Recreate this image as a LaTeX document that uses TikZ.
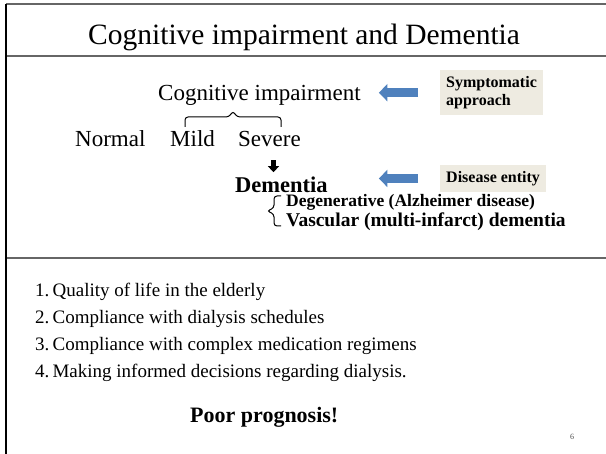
\documentclass[tikz,border=0pt]{standalone}
\usepackage{fontspec}
\setmainfont{Liberation Serif}
\usetikzlibrary{calc,positioning,arrows.meta}
\definecolor{boxgray}{HTML}{EEEBE1}
\definecolor{arrowblue}{HTML}{4F81BD}

\begin{document}
\begin{tikzpicture}[
    x=1pt, y=-1pt,% pixel-like grid, y grows downwards
    every node/.style={inner sep=0pt, anchor=base west},
    rule/.style={draw=black!60, line width=2pt},
    title/.style={font=\fontsize{29.5}{32}\selectfont},
    body/.style={font=\fontsize{23}{26}\selectfont},
    boldbody/.style={font=\fontsize{22.5}{26}\selectfont\bfseries},
    item/.style={font=\fontsize{19}{22}\selectfont},
    tagbox/.style={fill=boxgray, font=\fontsize{16}{18.5}\selectfont\bfseries,
        align=left, inner xsep=6pt, inner ysep=6pt, anchor=north west},
    bluearrow/.style={draw=arrowblue, line width=9pt,
        -{Triangle[length=8.5pt,width=17pt]}},
    blackarrow/.style={draw=black, line width=5pt,
        -{Triangle[length=6pt,width=11pt]}},
    curl/.style={draw=black, line width=1pt, rounded corners=3pt}
  ]
  \useasboundingbox (0,0) rectangle (606,454);

  % frame
  \draw[rule] (6,4) -- (606,4);
  \draw[rule] (6,56) -- (606,56);
  \draw[rule] (6,258) -- (606,258);
  \draw[black, line width=1.5pt] (6,4) -- (6,454);

  \node[title] (title) at (88,45) {Cognitive impairment and Dementia};

  \node[body] (cogimp) at (158,101) {Cognitive impairment};
  \node[body] (normal) at (75,147) {Normal};
  \node[body] (mild) at (170,147) {Mild};
  \node[body] (severe) at (238,147) {Severe};
  \node[boldbody] (dement) at (235,193) {Dementia};

  \node[tagbox] (symp) at (440,70) {Symptomatic\\approach};
  \node[tagbox] (disease) at (440,165) {Disease entity};

  \draw[bluearrow, shorten <=22pt, shorten >=18pt]
    (symp.west) -- (symp.west -| cogimp.east);
  \draw[bluearrow, shorten <=22pt, shorten >=18pt]
    (disease.west) -- (disease.west -| cogimp.east);

  \coordinate (sevfoot) at ([xshift=4pt]severe.south);
  \draw[blackarrow, shorten <=13pt, shorten >=5pt]
    (sevfoot) -- (sevfoot |- dement.north);

  % braces
  \draw[curl] (185,127) -- (185,117) -- (229,117) -- (233,111)
    -- (237,117) -- (281,117) -- (281,127);
  \draw[curl] (281,196) -- (274,196) -- (274,208) -- (267,211)
    -- (274,214) -- (274,226) -- (281,226);

  \node[font=\fontsize{17.5}{20}\selectfont\bfseries] (degen) at (286,207)
    {Degenerative (Alzheimer disease)};
  \node[font=\fontsize{19.5}{22}\selectfont\bfseries] (vasc) at (286,227)
    {Vascular (multi-infarct) dementia};

  \foreach \txt [count=\i] in {Quality of life in the elderly,
      Compliance with dialysis schedules,
      Compliance with complex medication regimens,
      Making informed decisions regarding dialysis.}
    \node[item] (q\i) at (35,270+27*\i) {\i.\,\txt};

  \node[boldbody, font=\fontsize{22}{26}\selectfont\bfseries] (poor) at (190,423)
    {Poor prognosis!};
  \node[anchor=center, text=black!70, font=\fontsize{8}{9}\selectfont] (pageno)
    at (572,437) {6};
\end{tikzpicture}
\end{document}
